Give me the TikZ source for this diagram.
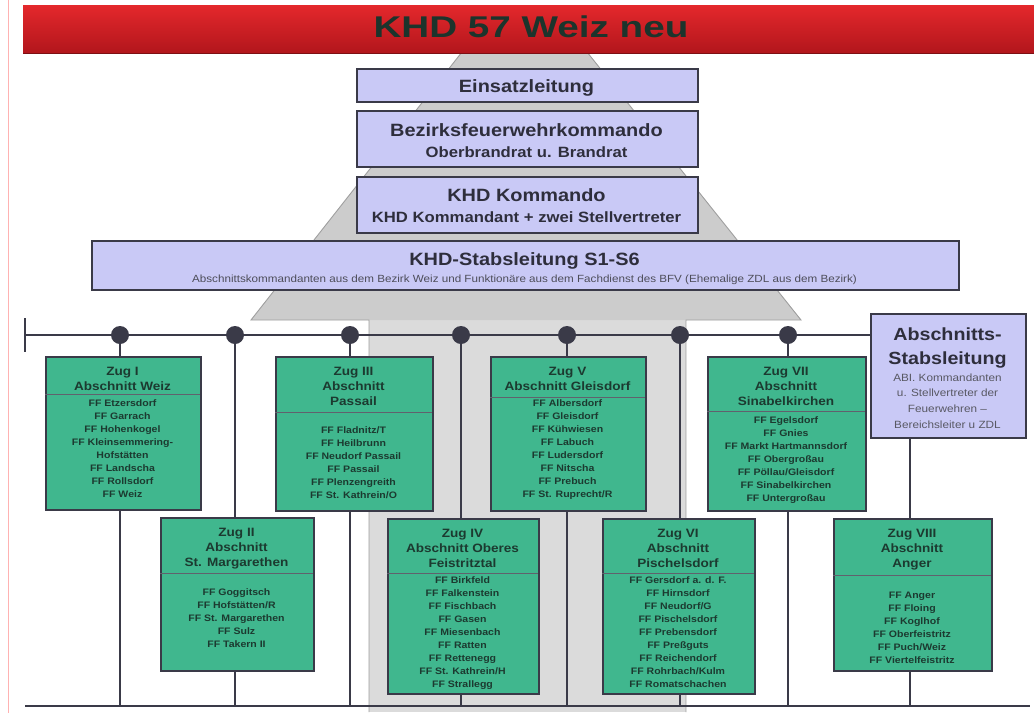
\documentclass[tikz,border=0pt]{standalone}
\usepackage{fontspec}
\setmainfont{Liberation Sans}[FakeStretch=1.12]
\usepackage{graphicx}
\definecolor{lav}{RGB}{201,201,246}
\definecolor{bord}{RGB}{58,58,72}
\definecolor{lavtxt}{RGB}{46,46,60}
\definecolor{zgreen}{RGB}{64,183,142}
\definecolor{ztxt}{RGB}{28,58,48}
\definecolor{ttxt}{RGB}{28,52,44}
\definecolor{redtop}{RGB}{228,40,44}
\definecolor{redbot}{RGB}{178,22,28}
\definecolor{headgray}{RGB}{204,204,204}
\definecolor{shaftgray}{RGB}{219,219,219}
\tikzset{
  lavbox/.style={draw=bord, line width=2.4pt, fill=lav, inner sep=0pt, anchor=north west},
  zbox/.style={draw=bord, line width=1.5pt, fill=zgreen, inner sep=0pt, anchor=north west},
  lt/.style={anchor=base, inner sep=0pt, text=lavtxt, font=\bfseries\fontsize{17.8}{20}\selectfont},
  ls/.style={anchor=base, inner sep=0pt, text=lavtxt, font=\bfseries\fontsize{14.9}{17}\selectfont},
  lsub/.style={anchor=base, inner sep=0pt, text=lavtxt!85, font=\fontsize{10.4}{12}\selectfont},
  zh/.style={anchor=base, inner sep=0pt, text=ztxt, font=\bfseries\fontsize{12.1}{14}\selectfont},
  zl/.style={anchor=base, inner sep=0pt, text=ztxt, font=\bfseries\fontsize{9.4}{11}\selectfont},
  ab/.style={anchor=base, inner sep=0pt, text=lavtxt, font=\bfseries\fontsize{17.6}{20}\selectfont},
  abs/.style={anchor=base, inner sep=0pt, text=lavtxt!80, font=\fontsize{10.5}{12}\selectfont},
  dot/.style={circle, fill=bord, minimum size=18pt, inner sep=0pt},
  bus/.style={line width=2.6pt, draw=bord},
  vline/.style={line width=2.2pt, draw=bord},
  sepline/.style={line width=0.9pt, draw=bord!80},
  arrowline/.style={draw=gray!75, line width=0.9pt},
  titletxt/.style={anchor=base, inner sep=0pt, text=ttxt, font=\bfseries\fontsize{30}{32}\selectfont}
}
\newcommand\zugbox[9]{%
  \node[zbox, minimum width={#4-#2}, minimum height={#5-#3}] (#1) at (#2,#3) {};
  \draw[sepline] (#2,#8) -- (#4,#8);
  \foreach \t [count=\i] in {#6} {\node[zh] (#1h\i) at ({(#2+#4)/2},{#3+19+15*(\i-1)}) {\t};}
  \foreach \t [count=\i] in {#9} {\node[zl] (#1l\i) at ({(#2+#4)/2},{#7+13.1*(\i-1)}) {\t};}
}
\begin{document}
\begin{tikzpicture}[x=1pt,y=-1pt]
\useasboundingbox (0,0) rectangle (1034,713);
\fill[white] (0,0) rectangle (1034,713);
\draw[red!30, line width=1pt] (8,0) -- (8,713);
% grey arrow in the background
\fill[shaftgray] (369,320) rectangle (686,712);
\fill[headgray] (462,52) -- (587,52) -- (801,320) -- (251,320) -- cycle;
\draw[arrowline] (462,52) -- (251,320) -- (369,320) -- (369,712);
\draw[arrowline] (587,52) -- (801,320) -- (686,320) -- (686,712);
% title bar
\shade[top color=redtop, bottom color=redbot] (23,5) rectangle (1034,53);
\draw[redbot!70!black, line width=1pt] (23,53) -- (1034,53);
\node[titletxt] (title) at (531,37) {\scalebox{1.15}[1]{KHD 57 Weiz neu}};
% command boxes
\node[lavbox, minimum width=341, minimum height=33] (einsatz) at (356,68) {};
\node[lt] (einsatzT) at (526.5,92) {Einsatzleitung};
\node[lavbox, minimum width=341, minimum height=56] (bfk) at (356,110) {};
\node[lt] (bfkT) at (526.5,136) {Bezirksfeuerwehrkommando};
\node[ls] (bfkS) at (526.5,157) {Oberbrandrat u. Brandrat};
\node[lavbox, minimum width=341, minimum height=56] (khd) at (356,176) {};
\node[lt] (khdT) at (526.5,201) {KHD Kommando};
\node[ls] (khdS) at (526.5,222) {KHD Kommandant + zwei Stellvertreter};
\node[lavbox, minimum width=867, minimum height=49] (stab) at (91,240) {};
\node[lt] (stabT) at (524.5,265) {KHD-Stabsleitung S1-S6};
\node[lsub] (stabS) at (524.5,282) {Abschnittskommandanten aus dem Bezirk Weiz und Funktionäre aus dem Fachdienst des BFV (Ehemalige ZDL aus dem Bezirk)};
% Abschnitts-Stabsleitung
\node[lavbox, minimum width=155, minimum height=124] (as) at (870,313) {};
\node[ab] (as1) at (947.5,340) {Abschnitts-};
\node[ab] (as2) at (947.5,364) {Stabsleitung};
\node[abs] (as3) at (947.5,381) {ABI. Kommandanten};
\node[abs] (as4) at (947.5,396.5) {u. Stellvertreter der};
\node[abs] (as5) at (947.5,412) {Feuerwehren –};
\node[abs] (as6) at (947.5,428) {Bereichsleiter u ZDL};
% bus and verticals
\coordinate (busL) at (25,335);
\coordinate (botL) at (25,706);
\coordinate (botR) at (1030,706);
\draw[bus] (busL) ++(0,-17) -- ++(0,34);
\draw[bus] (busL) -- (busL -| as.west);
\draw[bus] (botL) -- (botR);
\foreach \x [count=\i] in {120,235,350,461,567,680,788} {
  \coordinate (c\i) at (\x,335);
  \draw[vline] (c\i) -- (c\i |- botL);
}
\coordinate (c8) at (910,437);
\draw[vline] (c8) -- (c8 |- botL);
% Zug boxes
\zugbox{z1}{45}{356}{200}{509}{Zug I,Abschnitt Weiz}{406}{394}{FF Etzersdorf,FF Garrach,FF Hohenkogel,FF Kleinsemmering-,Hofstätten,FF Landscha,FF Rollsdorf,FF Weiz}
\zugbox{z3}{275}{356}{432}{510}{Zug III,Abschnitt,Passail}{433}{412}{FF Fladnitz/T,FF Heilbrunn,FF Neudorf Passail,FF Passail,FF Plenzengreith,FF St. Kathrein/O}
\zugbox{z5}{490}{356}{645}{510}{Zug V,Abschnitt Gleisdorf}{406}{397}{FF Albersdorf,FF Gleisdorf,FF Kühwiesen,FF Labuch,FF Ludersdorf,FF Nitscha,FF Prebuch,FF St. Ruprecht/R}
\zugbox{z7}{707}{356}{865}{510}{Zug VII,Abschnitt,Sinabelkirchen}{423}{411}{FF Egelsdorf,FF Gnies,FF Markt Hartmannsdorf,FF Obergroßau,FF Pöllau/Gleisdorf,FF Sinabelkirchen,FF Untergroßau}
\zugbox{z2}{160}{517}{313}{670}{Zug II,Abschnitt,St. Margarethen}{595}{573}{FF Goggitsch,FF Hofstätten/R,FF St. Margarethen,FF Sulz,FF Takern II}
\zugbox{z4}{387}{518}{538}{693}{Zug IV,Abschnitt Oberes,Feistritztal}{583}{573}{FF Birkfeld,FF Falkenstein,FF Fischbach,FF Gasen,FF Miesenbach,FF Ratten,FF Rettenegg,FF St. Kathrein/H,FF Strallegg}
\zugbox{z6}{602}{518}{754}{693}{Zug VI,Abschnitt,Pischelsdorf}{583}{573}{FF Gersdorf a. d. F.,FF Hirnsdorf,FF Neudorf/G,FF Pischelsdorf,FF Prebensdorf,FF Preßguts,FF Reichendorf,FF Rohrbach/Kulm,FF Romatschachen}
\zugbox{z8}{833}{518}{991}{670}{Zug VIII,Abschnitt,Anger}{598}{575}{FF Anger,FF Floing,FF Koglhof,FF Oberfeistritz,FF Puch/Weiz,FF Viertelfeistritz}
% junction dots
\foreach \i in {1,...,7} {\node[dot] (d\i) at (c\i) {};}
\end{tikzpicture}
\end{document}
